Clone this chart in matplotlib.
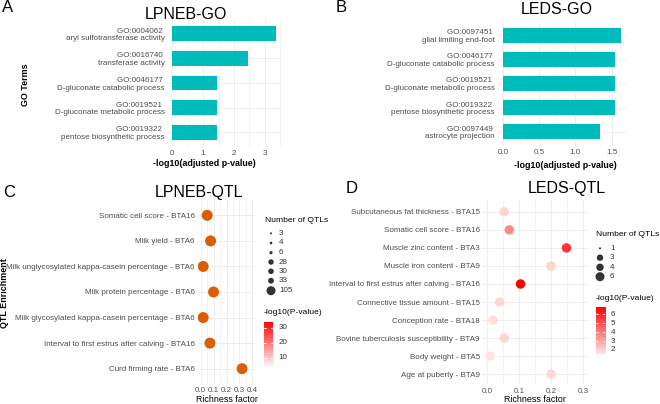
import numpy as np
import matplotlib
matplotlib.use("Agg")
import matplotlib.pyplot as plt
from matplotlib.colors import LinearSegmentedColormap

plt.rcParams['font.family'] = ['Liberation Sans', 'DejaVu Sans']

# ---------------- data ----------------
go_a_terms = ["GO:0004062 \naryl sulfotransferase activity",
              "GO:0016740 \ntransferase activity",
              "GO:0046177 \nD-gluconate catabolic process",
              "GO:0019521 \nD-gluconate metabolic process",
              "GO:0019322 \npentose biosynthetic process"]
go_a_vals = [3.35, 2.45, 1.46, 1.46, 1.46]

go_b_terms = ["GO:0097451 \nglial limiting end-foot",
              "GO:0046177 \nD-gluconate catabolic process",
              "GO:0019521 \nD-gluconate metabolic process",
              "GO:0019322 \npentose biosynthetic process",
              "GO:0097449 \nastrocyte projection"]
go_b_vals = [1.63, 1.55, 1.55, 1.55, 1.34]

qtl_c_terms = ["Somatic cell score - BTA16",
               "Milk yield - BTA6",
               "Milk unglycosylated kappa-casein percentage - BTA6",
               "Milk protein percentage - BTA6",
               "Milk glycosylated kappa-casein percentage - BTA6",
               "Interval to first estrus after calving - BTA16",
               "Curd firming rate - BTA6"]
qtl_c_rich = [0.051, 0.077, 0.020, 0.100, 0.020, 0.072, 0.320]
qtl_c_count_labels = [3, 4, 6, 28, 30, 33, 105]
qtl_c_p_ticks = [10, 20, 30]
qtl_c_p_range = (2.9, 34.0)

qtl_d_terms = ["Subcutaneous fat thickness - BTA15",
               "Somatic cell score - BTA16",
               "Muscle zinc content - BTA3",
               "Muscle iron content - BTA9",
               "Interval to first estrus after calving - BTA16",
               "Connective tissue amount - BTA15",
               "Conception rate - BTA18",
               "Bovine tuberculosis susceptibility - BTA9",
               "Body weight - BTA5",
               "Age at puberty - BTA9"]
qtl_d_rich = [0.054, 0.070, 0.248, 0.200, 0.105, 0.040, 0.019, 0.054, 0.010, 0.200]
qtl_d_logp = [1.9, 3.6, 5.6, 1.9, 6.86, 1.8, 1.6, 1.9, 1.51, 1.8]
qtl_d_count_labels = [1, 3, 4, 6]
qtl_d_p_ticks = [2, 3, 4, 5, 6]

# ---------------- style ----------------
W, H = 660, 404
fig = plt.figure(figsize=(6.6, 4.04), dpi=100)
BAR = "#00BBBB"
ORANGE = "#D95F02"
GRID = "#EBEBEB"
TICK = "#4D4D4D"
cmap_c = LinearSegmentedColormap.from_list("c", ["#FFFFFF", "#FF0000"])
cmap_d = LinearSegmentedColormap.from_list("d", ["#FFE4E1", "#FF0000"])


def box(x0, y0, x1, y1):
    return [x0 / W, 1 - y1 / H, (x1 - x0) / W, (y1 - y0) / H]


def style(ax, ypad):
    for s in ax.spines.values():
        s.set_visible(False)
    ax.tick_params(axis='both', length=0, labelsize=5.8, labelcolor=TICK)
    ax.tick_params(axis='y', pad=ypad)
    ax.tick_params(axis='x', pad=2)
    ax.set_axisbelow(True)
    ax.grid(which='major', color=GRID, lw=0.6)
    ax.grid(which='minor', axis='x', color=GRID, lw=0.4)


def barpanel(rect, terms, vals, xlim, ticks, minors, fmt):
    ax = fig.add_axes(box(*rect))
    n = len(terms)
    y = np.arange(n)[::-1]
    ax.barh(y, vals, height=0.6, color=BAR, zorder=2)
    ax.set_yticks(y)
    ax.set_yticklabels(terms, multialignment='right', linespacing=1.1)
    ax.set_ylim(-0.6, n - 1 + 0.6)
    ax.set_xlim(*xlim)
    ax.set_xticks(ticks)
    ax.set_xticklabels([fmt.format(t) for t in ticks])
    ax.set_xticks(minors, minor=True)
    style(ax, 1.7)
    ax.tick_params(which='minor', length=0)
    return ax


barpanel((167, 19, 281, 147), go_a_terms, go_a_vals, (-0.17, 3.52),
         [0, 1, 2, 3], [0.5, 1.5, 2.5, 3.5], "{:g}")
barpanel((497, 21, 627, 146), go_b_terms, go_b_vals, (-0.08, 1.71),
         [0, 0.5, 1.0, 1.5], [0.25, 0.75, 1.25], "{:.1f}")


def dotpanel(rect, terms, xs, colors, xlim, ticks, minors, ms, ypad):
    ax = fig.add_axes(box(*rect))
    n = len(terms)
    y = np.arange(n)[::-1]
    ax.scatter(xs, y, s=(ms * 0.72) ** 2, c=colors, edgecolors='none', zorder=3)
    ax.set_yticks(y)
    ax.set_yticklabels(terms)
    ax.set_ylim(-0.6, n - 1 + 0.6)
    ax.set_xlim(*xlim)
    ax.set_xticks(ticks)
    ax.set_xticklabels(["{:.1f}".format(t) for t in ticks])
    ax.set_xticks(minors, minor=True)
    style(ax, ypad)
    ax.tick_params(which='minor', length=0)
    return ax


dotpanel((198, 200, 255, 384), qtl_c_terms, qtl_c_rich, [ORANGE] * len(qtl_c_rich),
         (-0.02, 0.42), [0, 0.1, 0.2, 0.3, 0.4], [0.05, 0.15, 0.25, 0.35], 11, 2.4)

dnorm = plt.Normalize(1.51, 6.86)
dotpanel((482, 201, 588, 385), qtl_d_terms, qtl_d_rich,
         [cmap_d(dnorm(v)) for v in qtl_d_logp],
         (-0.015, 0.315), [0, 0.1, 0.2, 0.3], [0.05, 0.15, 0.25], 9.5, 1.5)

# ---------------- overlay texts & legends ----------------
ov = fig.add_axes([0, 0, 1, 1])
ov.set_xlim(0, W)
ov.set_ylim(H, 0)
ov.axis('off')

def T(x, y, s, **kw):
    kw.setdefault('ha', 'center')
    kw.setdefault('va', 'center')
    ov.text(x, y, s, **kw)

# panel letters & titles
T(8, 8, "A", fontsize=12)
T(341, 8, "B", fontsize=12)
T(9.5, 192.5, "C", fontsize=12)
T(352, 188.5, "D", fontsize=12)
T(185.5, 14.5, "LPNEB-GO", fontsize=11.5)
T(556.5, 10, "LEDS-GO", fontsize=11.5)
T(198.7, 192.6, "LPNEB-QTL", fontsize=11.5)
T(567, 188.5, "LEDS-QTL", fontsize=11.5)

# axis titles
T(204, 164, "-log10(adjusted p-value)", fontsize=6.4, fontweight='bold')
T(565, 165, "-log10(adjusted p-value)", fontsize=6.4, fontweight='bold')
T(25, 85, "GO Terms", fontsize=6.4, fontweight='bold', rotation=90)
T(4.5, 293, "QTL Enrichment", fontsize=6.4, fontweight='bold', rotation=90)
T(227, 400, "Richness factor", fontsize=6.4)
T(535, 400, "Richness factor", fontsize=6.4)


def size_legend(x_title, y_title, x_mark, x_lab, ys, labels):
    T(x_title, y_title, "Number of QTLs", fontsize=6.1, ha='left')
    lo, hi = min(labels), max(labels)
    for yy, n in zip(ys, labels):
        d = 2 + 7 * np.sqrt((n - lo) / (hi - lo))
        ov.scatter([x_mark], [yy], s=(d * 0.72) ** 2, c="#333333", edgecolors='none')
        T(x_lab, yy, str(n), fontsize=5.8, ha='left', color="#333333")


def color_legend(x_title, y_title, rect, cmap, vrange, ticks):
    T(x_title, y_title, "-log10(P-value)", fontsize=6.1, ha='left')
    x0, y0, x1, y1 = rect
    cax = fig.add_axes(box(x0, y0, x1, y1))
    grad = np.linspace(vrange[0], vrange[1], 256).reshape(-1, 1)
    cax.imshow(grad, aspect='auto', cmap=cmap, origin='lower',
               extent=[0, 1, vrange[0], vrange[1]], vmin=vrange[0], vmax=vrange[1])
    cax.set_xlim(0, 1)
    cax.set_ylim(*vrange)
    cax.axis('off')
    for t in ticks:
        cax.plot([0, 0.2], [t, t], color='white', lw=0.6)
        cax.plot([0.8, 1], [t, t], color='white', lw=0.6)
        yy = y1 - (t - vrange[0]) / (vrange[1] - vrange[0]) * (y1 - y0)
        T(x1 + 5.5, yy, str(t), fontsize=5.8, ha='left', color="#333333")


size_legend(265, 220, 271, 279, [233.3, 243, 252.7, 262, 271.3, 280.7, 290.7],
            qtl_c_count_labels)
color_legend(264, 313, (264.3, 321.7, 273.3, 368.3), cmap_c, qtl_c_p_range, qtl_c_p_ticks)

size_legend(596, 234.3, 600, 610, [248.3, 257.7, 267.3, 276.7], qtl_d_count_labels)
color_legend(596, 298.3, (595.7, 306.7, 605, 354.3), cmap_d, (1.51, 6.86), qtl_d_p_ticks)

fig.savefig("out.png", dpi=100)
